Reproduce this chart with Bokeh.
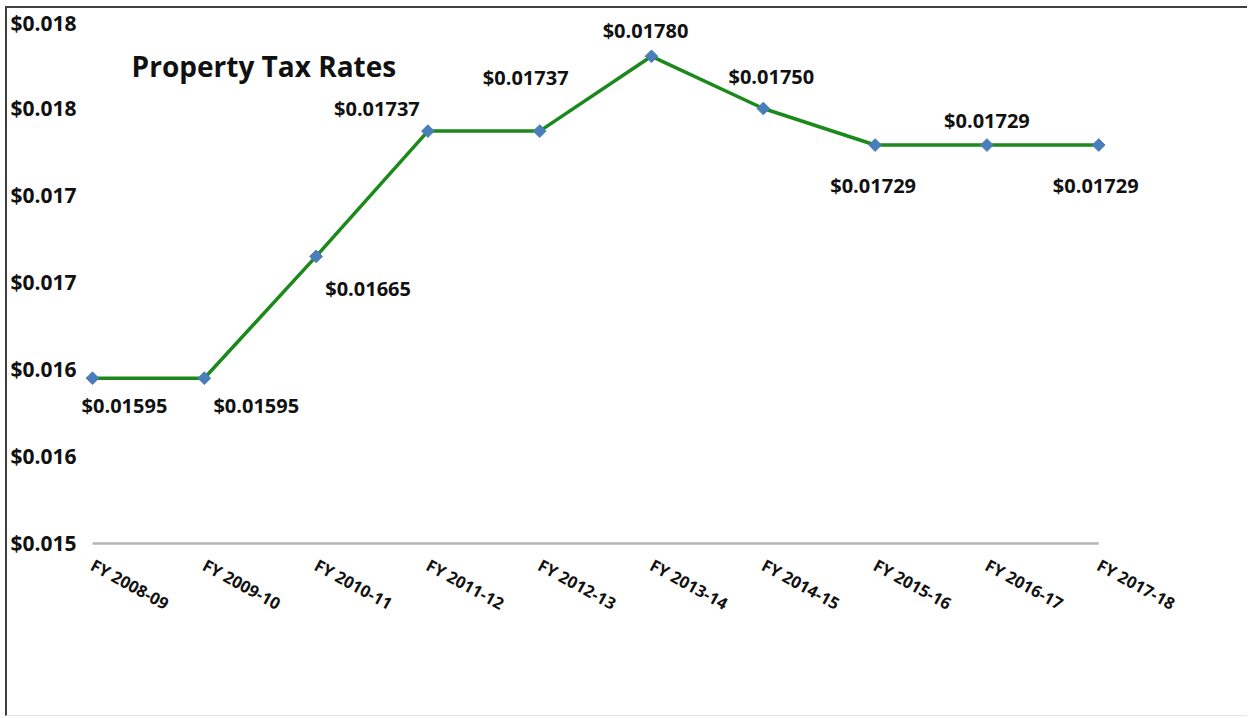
import math
from bokeh.plotting import figure
from bokeh.models import Range1d, FixedTicker, Label, ColumnDataSource
from bokeh.core.properties import value
from bokeh.embed import file_html
from bokeh.resources import INLINE

# ---- data ----
categories = ["FY 2008-09", "FY 2009-10", "FY 2010-11", "FY 2011-12", "FY 2012-13",
              "FY 2013-14", "FY 2014-15", "FY 2015-16", "FY 2016-17", "FY 2017-18"]
rates = [0.01595, 0.01595, 0.01665, 0.01737, 0.01737, 0.01780, 0.01750, 0.01729, 0.01729, 0.01729]
rate_labels = ["$0.01595", "$0.01595", "$0.01665", "$0.01737", "$0.01737",
               "$0.01780", "$0.01750", "$0.01729", "$0.01729", "$0.01729"]
y_tick_values = [0.015, 0.0155, 0.016, 0.0165, 0.017, 0.0175, 0.018]
y_tick_labels = ["$0.015", "$0.016", "$0.016", "$0.017", "$0.017", "$0.018", "$0.018"]
title_text = "Property Tax Rates"

# ---- label placement (screen pixel offsets, style only) ----
label_dx = [32, 52, 52, -51, -14, -6, 8, -2, 0, -3]
label_dy = [27, 27, 32, -23, -54, -26, -32, 40, -25, 40]

x = list(range(len(categories)))
FONT = "Open Sans"

p = figure(width=1242, height=710, output_backend="svg", toolbar_location=None,
           x_range=Range1d(-0.0983, 10.268), y_range=Range1d(0.0149885, 0.0180632),
           min_border_left=73, min_border_right=9, min_border_top=2, min_border_bottom=173)
p.styles = {"margin-left": "5px", "margin-top": "6px",
            "border-left": "2px solid #404040", "border-top": "2px solid #404040",
            "border-bottom": "1px solid #e6e6e6"}
p.outline_line_color = None
p.xgrid.visible = False
p.ygrid.visible = False
p.background_fill_color = "white"
p.border_fill_color = "white"

# axes
xa = p.xaxis[0]
xa.ticker = FixedTicker(ticks=x)
xa.major_label_overrides = {i: c for i, c in zip(x, categories)}
xa.axis_line_color = None
xa.major_tick_line_color = None
xa.minor_tick_line_color = None
xa.major_tick_out = 0
xa.major_tick_in = 0
xa.major_label_orientation = -0.5
xa.major_label_text_font = FONT
xa.major_label_text_font_style = "bold"
xa.major_label_text_font_size = "16.5px"
xa.major_label_text_color = "#111111"
xa.major_label_standoff = 18

ya = p.yaxis[0]
ya.ticker = FixedTicker(ticks=y_tick_values)
ya.major_label_overrides = {v: l for v, l in zip(y_tick_values, y_tick_labels)}
ya.axis_line_color = None
ya.major_tick_line_color = None
ya.minor_tick_line_color = None
ya.major_tick_out = 0
ya.major_tick_in = 0
ya.major_label_text_font = FONT
ya.major_label_text_font_style = "bold"
ya.major_label_text_font_size = "21px"
ya.major_label_text_color = "#111111"
ya.major_label_standoff = 5

# baseline axis line from first to last category
p.line(x=[x[0], x[-1]], y=[y_tick_values[0], y_tick_values[0]], line_color="#b4b4b4", line_width=2.5)

src = ColumnDataSource(dict(x=x, y=rates, lab=rate_labels, dx=label_dx, dy=label_dy))
p.line("x", "y", source=src, line_color="#1c891c", line_width=3.5)
p.scatter("x", "y", source=src, marker="square", size=9, angle=math.pi / 4,
          fill_color="#4a7ebb", line_color="#4a7ebb")
p.text("x", "y", text="lab", source=src, x_offset="dx", y_offset="dy",
       text_align="center", text_baseline="middle",
       text_font=value(FONT), text_font_style="bold", text_font_size="20px", text_color="#111111")

p.add_layout(Label(x=0.35, y=0.017747, text=title_text, text_font=FONT, text_font_style="bold",
                   text_font_size="28px", text_color="#111111", text_baseline="middle"))

open("out.html", "w").write(file_html(p, INLINE))
